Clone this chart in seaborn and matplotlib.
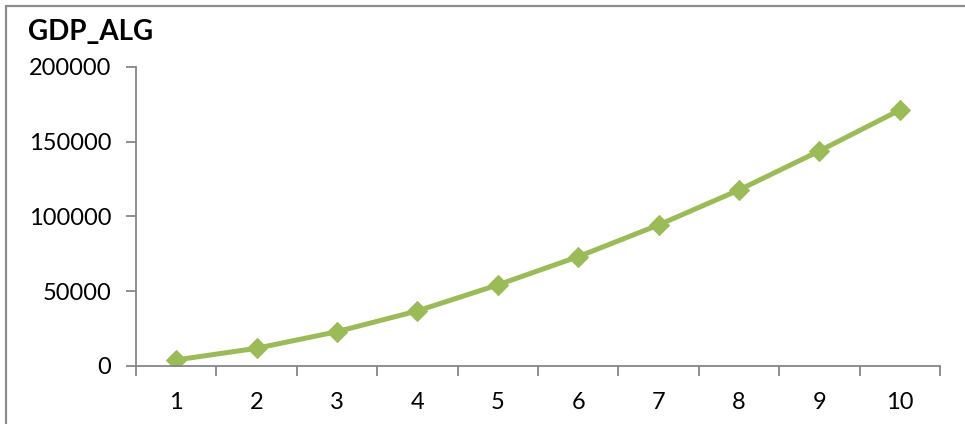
import matplotlib
matplotlib.use("Agg")
import matplotlib.pyplot as plt
from matplotlib.lines import Line2D
import seaborn as sns
import pandas as pd
import numpy as np

# Series values
periods = [1, 2, 3, 4, 5, 6, 7, 8, 9, 10]
gdp_alg = [4000, 11800, 22900, 36800, 54200, 73100, 94300, 117700, 143800, 171200]
y_ticks = [0, 50000, 100000, 150000, 200000]
title = "GDP_ALG"

df = pd.DataFrame({"period": periods, "gdp": gdp_alg})

sns.set_theme(style="white")
plt.rcParams["font.family"] = ["Lato", "DejaVu Sans"]

fig = plt.figure(figsize=(9.65, 4.24), dpi=100)
ax = fig.add_axes([0.141, 0.137, 0.833, 0.705])

sns.lineplot(data=df, x="period", y="gdp", ax=ax, color="#9BBB59",
             linewidth=3.6, marker="D", markersize=10,
             markeredgecolor="#9BBB59", markerfacecolor="#9BBB59")

axis_grey = "#868686"
ax.set_xlim(0.5, 10.5)
ax.set_ylim(0, 200000)
ax.set_yticks(y_ticks)
ax.set_yticklabels([str(v) for v in y_ticks])
ax.set_xticks(periods)
ax.set_xticklabels([str(p) for p in periods])
ax.set_xticks(np.arange(0.5, 11.0, 1.0), minor=True)

for side in ("top", "right"):
    ax.spines[side].set_visible(False)
for side in ("left", "bottom"):
    ax.spines[side].set_color(axis_grey)
    ax.spines[side].set_linewidth(1.3)

ax.tick_params(axis="y", which="major", length=7, width=1.3, color=axis_grey,
               direction="out", pad=11, labelsize=17, labelcolor="black", left=True)
ax.tick_params(axis="x", which="major", length=0, pad=19, labelsize=17,
               labelcolor="black", bottom=True)
ax.tick_params(axis="x", which="minor", length=7, width=1.3, color=axis_grey,
               direction="out", bottom=True)

ax.set_xlabel("")
ax.set_ylabel("")
ax.grid(False)

fig.text(0.029, 0.905, title, fontsize=20, fontweight="bold", ha="left",
         va="baseline", color="black")

# Chart frame edges
fig.add_artist(Line2D([0.0065, 0.0065], [0.0, 0.986], transform=fig.transFigure,
                      color="#8c8c8c", linewidth=1.6))
fig.add_artist(Line2D([0.0065, 1.0], [0.986, 0.986], transform=fig.transFigure,
                      color="#8c8c8c", linewidth=1.6))

fig.savefig("out.png", dpi=100)
